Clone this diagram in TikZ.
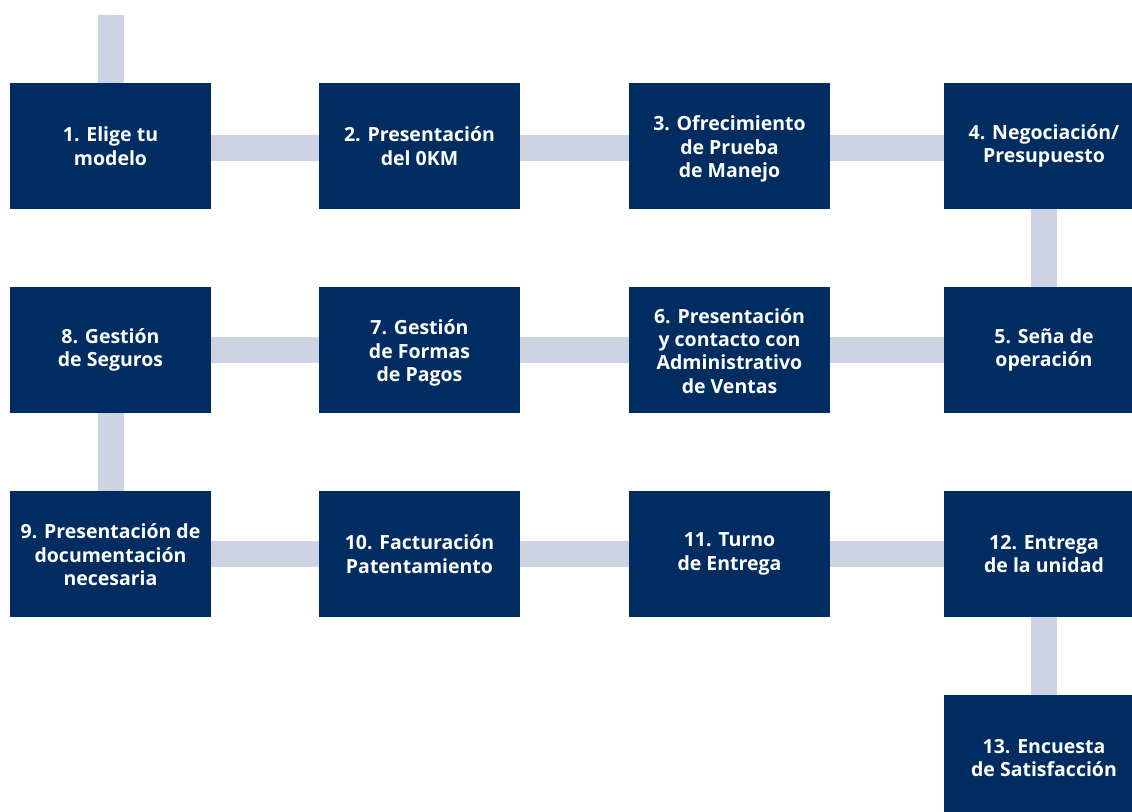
\documentclass[tikz,border=0pt]{standalone}
\usepackage{fontspec}
\setmainfont{Open Sans}
\usetikzlibrary{backgrounds}
\definecolor{boxblue}{HTML}{002D61}
\definecolor{barblue}{HTML}{CED3E3}
\newcommand{\lowtxt}[1]{\raisebox{-3.5pt}[\height][\depth]{\begin{tabular}{@{}c@{}}#1\end{tabular}}}
\tikzset{
  stepbox/.style={fill=boxblue, draw=none, minimum width=201pt, minimum height=126pt,
    inner sep=0pt, text=white, align=center, font=\fontsize{19.5}{23.4}\selectfont\bfseries},
  conn/.style={draw=barblue, line width=26pt, line cap=butt},
  rowone/.style={transform canvas={yshift=-2pt}}
}
\begin{document}
\begin{tikzpicture}[x=1pt,y=-1pt]
\clip (0,0) rectangle (1132,811);
\node[stepbox] (n1) at (110.5,146) {1. Elige tu\\modelo};
\node[stepbox] (n2) at (419.5,146) {2. Presentación\\del 0KM};
\node[stepbox] (n3) at (729.5,146) {\lowtxt{3. Ofrecimiento\\de Prueba\\de Manejo}};
\node[stepbox] (n4) at (1044,146) {4. Negociación/\\Presupuesto};
\node[stepbox] (n8) at (110.5,350) {8. Gestión\\de Seguros};
\node[stepbox] (n7) at (419.5,350) {\lowtxt{7. Gestión\\de Formas\\de Pagos}};
\node[stepbox] (n6) at (729.5,350) {\lowtxt{6. Presentación\\y contacto con\\Administrativo\\de Ventas}};
\node[stepbox] (n5) at (1044,350) {5. Seña de\\operación};
\node[stepbox] (n9) at (110.5,554) {\lowtxt{9. Presentación de\\documentación\\necesaria}};
\node[stepbox] (n10) at (419.5,554) {10. Facturación\\Patentamiento};
\node[stepbox] (n11) at (729.5,554) {11. Turno\\de Entrega};
\node[stepbox] (n12) at (1044,554) {12. Entrega\\de la unidad};
\node[stepbox] (n13) at (1044,758) {13. Encuesta\\de Satisfacción};
\coordinate (top) at (111,15);
\begin{scope}[on background layer]
\draw[conn] (top) -- (n1.center);
\draw[conn, rowone] (n1.center) -- (n2.center);
\draw[conn, rowone] (n2.center) -- (n3.center);
\draw[conn, rowone] (n3.center) -- (n4.center);
\draw[conn] (n4.center) -- (n5.center);
\draw[conn] (n5.center) -- (n6.center);
\draw[conn] (n6.center) -- (n7.center);
\draw[conn] (n7.center) -- (n8.center);
\draw[conn] (n8.center) -- (n9.center);
\draw[conn] (n9.center) -- (n10.center);
\draw[conn] (n10.center) -- (n11.center);
\draw[conn] (n11.center) -- (n12.center);
\draw[conn] (n12.center) -- (n13.center);
\end{scope}
\end{tikzpicture}
\end{document}
